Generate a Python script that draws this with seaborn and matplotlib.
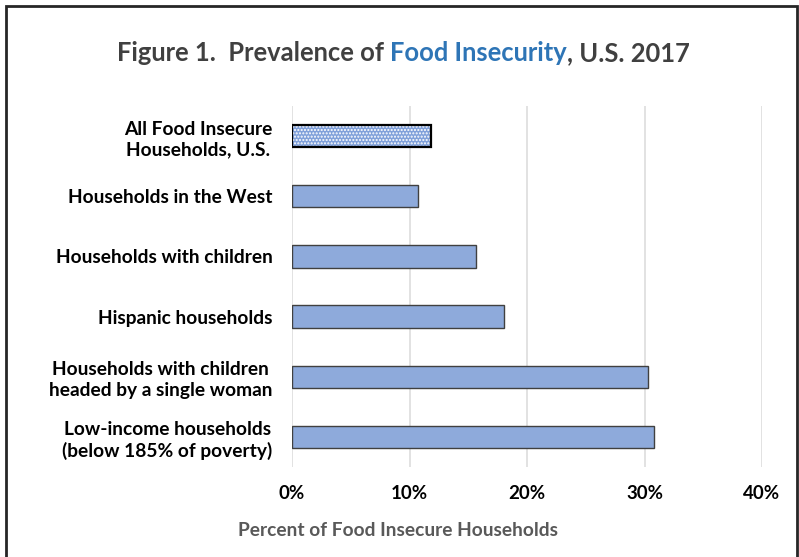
import matplotlib
matplotlib.use("Agg")
import matplotlib.pyplot as plt
import seaborn as sns
import pandas as pd
from matplotlib.patches import Rectangle
from matplotlib.ticker import FuncFormatter

categories = [
    "All Food Insecure\nHouseholds, U.S.",
    "Households in the West",
    "Households with children",
    "Hispanic households",
    "Households with children\nheaded by a single woman",
    "Low-income households\n(below 185% of poverty)",
]
values = [11.8, 10.7, 15.7, 18.0, 30.3, 30.8]
xticks = [0, 10, 20, 30, 40]

df = pd.DataFrame({"category": categories, "value": values})

sns.set_theme(style="white")
plt.rcParams["font.family"] = ["Lato", "DejaVu Sans"]

W, H = 799, 557
fig = plt.figure(figsize=(W / 100, H / 100), dpi=100)
ax = fig.add_axes([292 / W, (H - 467) / H, (762 - 292) / W, (467 - 106) / H])

bar_color = "#8EAADB"
sns.barplot(data=df, x="value", y="category", orient="h", color=bar_color,
            width=0.37, edgecolor="#404040", linewidth=1.0, saturation=1, ax=ax)

# first bar: patterned with black outline
p = ax.patches[0]
p.set_facecolor("#7FA0DA")
p.set_edgecolor("white")
p.set_hatch(".....")
p.set_linewidth(0)
ax.add_patch(Rectangle(p.get_xy(), p.get_width(), p.get_height(), fill=False,
                       edgecolor="black", linewidth=1.6, zorder=5))

ax.set_xlim(0, 40)
ax.set_xticks(xticks)
ax.xaxis.set_major_formatter(FuncFormatter(lambda v, _: f"{v:.0f}%"))
ax.grid(axis="x", color="#DDDDDD", linewidth=1.2)
ax.set_axisbelow(True)
for s in ax.spines.values():
    s.set_visible(False)
ax.tick_params(axis="x", length=0, pad=13, labelsize=13.5, labelcolor="black")
ax.tick_params(axis="y", length=0, pad=14, labelsize=13.8, labelcolor="black")
for t in ax.get_xticklabels():
    t.set_fontweight("bold")
for t in ax.get_yticklabels():
    t.set_fontweight("bold")
    t.set_multialignment("center")
    t.set_linespacing(1.25)
ax.set_xlabel("")
ax.set_ylabel("")

fig.text(398 / W, (H - 530) / H, "Percent of Food Insecure Households", ha="center",
         va="center", fontsize=13.75, fontweight="bold", color="#595959")

# title in three colored parts
parts = [("Figure 1.  Prevalence of ", "#404040"), ("Food Insecurity", "#2E75B6"),
         (", U.S. 2017", "#404040")]
fig.canvas.draw()
r = fig.canvas.get_renderer()
texts = []
widths = []
for s, c in parts:
    t = fig.text(0, (H - 53) / H, s, fontsize=18.4, fontweight="bold", color=c,
                 va="center", ha="left")
    widths.append(t.get_window_extent(renderer=r).width)
    texts.append(t)
total = sum(widths)
x0 = 403 - total / 2
for t, w in zip(texts, widths):
    t.set_x(x0 / W)
    x0 += w

# outer frame
fig.add_artist(Rectangle((6 / W, -0.05), (797 - 6) / W, (H - 6) / H + 0.05,
                         transform=fig.transFigure, fill=False,
                         edgecolor="#262626", linewidth=2))

fig.savefig("out.png", dpi=100)
